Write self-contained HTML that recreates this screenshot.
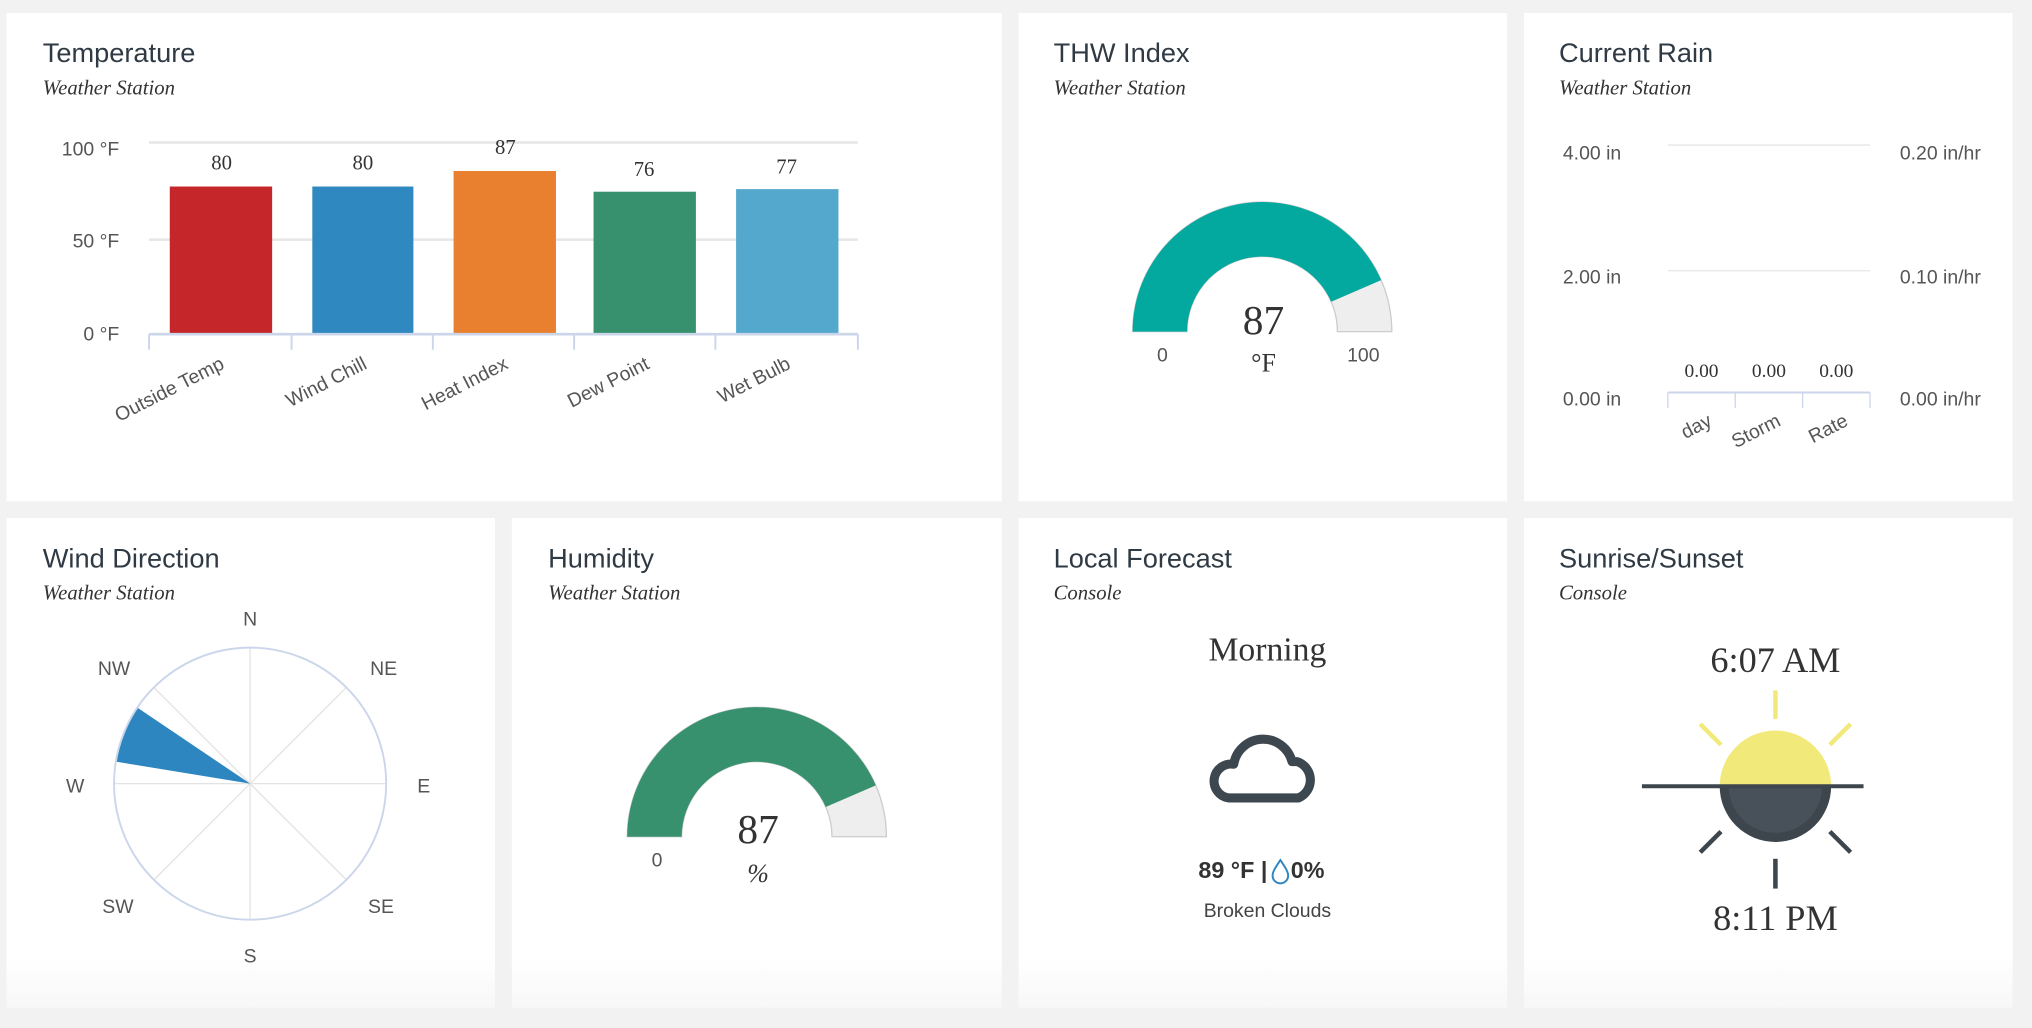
<!DOCTYPE html>
<html><head><meta charset="utf-8"><style>
html,body{margin:0;padding:0;background:#f2f2f2;width:2032px;height:1022px;overflow:hidden}
#w{position:absolute;left:0;top:0;width:1568px;height:789px;transform:scale(1.29592,1.2953);transform-origin:0 0}
svg text{font-family:"Liberation Sans",sans-serif}
.t{font-size:21px;fill:#2f3a44}
.s{font-family:"Liberation Serif",serif!important;font-style:italic;font-size:16px;fill:#333}
.ax{font-size:15px;fill:#555}
.sf{font-family:"Liberation Serif",serif!important;fill:#333}
</style></head><body><div id="w">
<svg width="1568" height="789" viewBox="0 0 1568 789" xmlns="http://www.w3.org/2000/svg">
<rect width="1568" height="789" fill="#f2f2f2"/>
<defs><linearGradient id="g" x1="0" y1="0" x2="0" y2="1"><stop offset="0.9" stop-color="#fff"/><stop offset="1" stop-color="#f7f7f7"/></linearGradient></defs>
<rect x="5" y="10" width="768" height="377" fill="#fff"/>
<rect x="786" y="10" width="377" height="377" fill="#fff"/>
<rect x="1176" y="10" width="377" height="377" fill="#fff"/>
<rect x="5" y="400" width="377" height="378" fill="url(#g)"/>
<rect x="395" y="400" width="378" height="378" fill="url(#g)"/>
<rect x="786" y="400" width="377" height="378" fill="url(#g)"/>
<rect x="1176" y="400" width="377" height="378" fill="url(#g)"/>

<!-- Temperature -->
<text class="t" x="33" y="48">Temperature</text>
<text class="s" x="33" y="73">Weather Station</text>
<line x1="115" y1="110" x2="662" y2="110" stroke="#e6e6e6" stroke-width="2"/>
<line x1="115" y1="185" x2="662" y2="185" stroke="#e6e6e6" stroke-width="2"/>
<text class="ax" x="92" y="120" text-anchor="end">100 °F</text>
<text class="ax" x="92" y="191" text-anchor="end">50 °F</text>
<text class="ax" x="92" y="263" text-anchor="end">0 °F</text>
<rect x="131" y="144" width="79" height="114" fill="#c4262a"/>
<rect x="241" y="144" width="78" height="114" fill="#3088c1"/>
<rect x="350" y="132" width="79" height="126" fill="#e9802f"/>
<rect x="458" y="148" width="79" height="110" fill="#38916e"/>
<rect x="568" y="146" width="79" height="112" fill="#54a8cd"/>
<g class="sf" font-size="16" text-anchor="middle">
<text class="sf" x="171" y="131">80</text><text class="sf" x="280" y="131">80</text><text class="sf" x="390" y="119">87</text><text class="sf" x="497" y="136">76</text><text class="sf" x="607" y="134">77</text></g>
<line x1="115" y1="258" x2="662" y2="258" stroke="#ccd6eb" stroke-width="2"/>
<g stroke="#ccd6eb" stroke-width="1.5"><line x1="115" y1="258" x2="115" y2="270"/><line x1="225" y1="258" x2="225" y2="270"/><line x1="334" y1="258" x2="334" y2="270"/><line x1="443" y1="258" x2="443" y2="270"/><line x1="552" y1="258" x2="552" y2="270"/><line x1="662" y1="258" x2="662" y2="270"/></g>
<g class="ax" text-anchor="end" font-size="16">
<text x="174" y="284" transform="rotate(-27 174 284)">Outside Temp</text>
<text x="284" y="284" transform="rotate(-27 284 284)">Wind Chill</text>
<text x="393" y="284" transform="rotate(-27 393 284)">Heat Index</text>
<text x="502" y="284" transform="rotate(-27 502 284)">Dew Point</text>
<text x="611" y="284" transform="rotate(-27 611 284)">Wet Bulb</text></g>

<!-- THW -->
<text class="t" x="813" y="48">THW Index</text>
<text class="s" x="813" y="73">Weather Station</text>
<path d="M874 256 A100 100 0 0 1 1074 256 L1032 256 A58 58 0 0 0 916 256 Z" fill="#eeeeee" stroke="#cccccc"/>
<path d="M874 256 A100 100 0 0 1 1065.8 216.3 L1027.2 233 A58 58 0 0 0 916 256 Z" fill="#03a89e"/>
<text class="ax" x="897" y="279" text-anchor="middle">0</text>
<text class="ax" x="1052" y="279" text-anchor="middle">100</text>
<text class="sf" x="975" y="258" font-size="32" text-anchor="middle">87</text>
<text class="sf" x="975" y="287" font-size="20" text-anchor="middle">°F</text>

<!-- Rain -->
<text class="t" x="1203" y="48">Current Rain</text>
<text class="s" x="1203" y="73">Weather Station</text>
<line x1="1287" y1="112" x2="1443" y2="112" stroke="#e6e6e6"/>
<line x1="1287" y1="209" x2="1443" y2="209" stroke="#e6e6e6"/>
<line x1="1287" y1="303" x2="1443" y2="303" stroke="#ccd6eb" stroke-width="1.5"/>
<g stroke="#ccd6eb"><line x1="1287" y1="303" x2="1287" y2="315"/><line x1="1339" y1="303" x2="1339" y2="315"/><line x1="1391" y1="303" x2="1391" y2="315"/><line x1="1443" y1="303" x2="1443" y2="315"/></g>
<g class="ax"><text x="1206" y="123">4.00 in</text><text x="1206" y="219">2.00 in</text><text x="1206" y="313">0.00 in</text>
<text x="1466" y="123">0.20 in/hr</text><text x="1466" y="219">0.10 in/hr</text><text x="1466" y="313">0.00 in/hr</text></g>
<g class="sf" font-size="15" text-anchor="middle"><text class="sf" x="1313" y="291">0.00</text><text class="sf" x="1365" y="291">0.00</text><text class="sf" x="1417" y="291">0.00</text></g>
<g class="ax" text-anchor="end" font-size="15">
<text x="1322" y="328" transform="rotate(-27 1322 328)">day</text>
<text x="1375" y="328" transform="rotate(-27 1375 328)">Storm</text>
<text x="1427" y="328" transform="rotate(-27 1427 328)">Rate</text></g>

<!-- Wind -->
<text class="t" x="33" y="438">Wind Direction</text>
<text class="s" x="33" y="463">Weather Station</text>
<g stroke="#e3e3e3"><line x1="193" y1="500" x2="193" y2="710"/><line x1="88" y1="605" x2="298" y2="605"/><line x1="119" y1="531" x2="267" y2="679"/><line x1="267" y1="531" x2="119" y2="679"/></g>
<path d="M193 605 L89.4 588 A105 105 0 0 1 106 546.3 Z" fill="#2e86c1"/>
<circle cx="193" cy="605" r="105" fill="none" stroke="#ccd6eb" stroke-width="1.5"/>
<g class="ax" text-anchor="middle" font-size="14"><text x="193" y="483">N</text><text x="296" y="521">NE</text><text x="327" y="612">E</text><text x="294" y="705">SE</text><text x="193" y="743">S</text><text x="91" y="705">SW</text><text x="58" y="612">W</text><text x="88" y="521">NW</text></g>

<!-- Humidity -->
<text class="t" x="423" y="438">Humidity</text>
<text class="s" x="423" y="463">Weather Station</text>
<path d="M484 646 A100 100 0 0 1 684 646 L642 646 A58 58 0 0 0 526 646 Z" fill="#eeeeee" stroke="#cccccc"/>
<path d="M484 646 A100 100 0 0 1 675.8 606.3 L637.2 623 A58 58 0 0 0 526 646 Z" fill="#38916e"/>
<text class="ax" x="507" y="669" text-anchor="middle">0</text>
<text class="sf" x="585" y="651" font-size="32" text-anchor="middle">87</text>
<text class="sf" x="585" y="681" font-size="20" font-style="italic" text-anchor="middle">%</text>

<!-- Forecast -->
<text class="t" x="813" y="438">Local Forecast</text>
<text class="s" x="813" y="463">Console</text>
<text class="sf" x="978" y="510" font-size="26" text-anchor="middle">Morning</text>
<path d="M948 616 L1002 616 A15 15 0 0 0 1001 588 L997 588 A23 23 0 0 0 952 590 A13 13 0 0 0 948 616 Z" fill="none" stroke="#3d474f" stroke-width="7" stroke-linejoin="round"/>
<text x="978" y="678" font-size="18" font-weight="bold" fill="#333" text-anchor="end">89 °F |</text>
<path d="M988 664 C984 670 982 673 982 676 A6 6 0 0 0 994 676 C994 673 992 670 988 664 Z" fill="none" stroke="#2e86c1" stroke-width="1.5"/>
<text x="996" y="678" font-size="18" font-weight="bold" fill="#333">0%</text>
<text x="978" y="708" font-size="15" fill="#444" text-anchor="middle">Broken Clouds</text>

<!-- Sunrise -->
<text class="t" x="1203" y="438">Sunrise/Sunset</text>
<text class="s" x="1203" y="463">Console</text>
<text class="sf" x="1370" y="519" font-size="28" text-anchor="middle">6:07 AM</text>
<g stroke="#f2e97b" stroke-width="3.5"><line x1="1370" y1="533" x2="1370" y2="555"/><line x1="1312" y1="559" x2="1328" y2="575"/><line x1="1428" y1="559" x2="1412" y2="575"/></g>
<g stroke="#3d454d" stroke-width="3.5"><line x1="1312" y1="658" x2="1328" y2="642"/><line x1="1428" y1="658" x2="1412" y2="642"/><line x1="1370" y1="663" x2="1370" y2="686"/></g>
<path d="M1327 607 A43 43 0 0 1 1413 607 Z" fill="#f2e97b"/>
<path d="M1327 607 A43 43 0 0 0 1413 607 Z" fill="#3d454d"/>
<path d="M1334 607 A36 36 0 0 0 1406 607 Z" fill="#48505a"/>
<line x1="1267" y1="607" x2="1438" y2="607" stroke="#3d454d" stroke-width="3"/>
<text class="sf" x="1370" y="718" font-size="28" text-anchor="middle">8:11 PM</text>
</svg></div></body></html>
